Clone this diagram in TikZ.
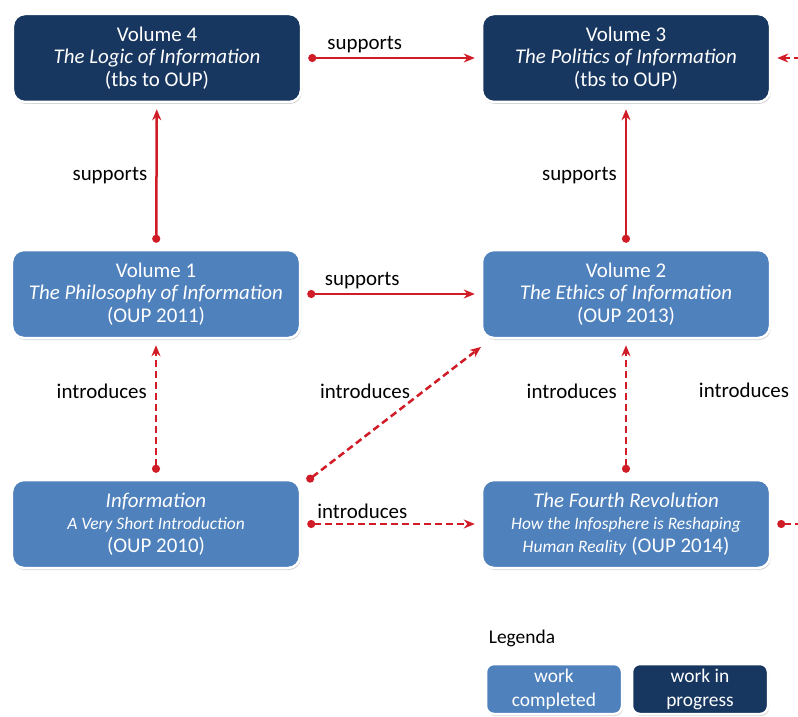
\documentclass[tikz,border=0pt]{standalone}
\usepackage{fontspec}
\setmainfont{Carlito}
\usetikzlibrary{arrows.meta,shadows,calc}
\definecolor{donebox}{RGB}{79,129,189}
\definecolor{wipbox}{RGB}{24,55,96}
\definecolor{linkred}{RGB}{208,28,38}
\begin{document}
\begin{tikzpicture}[x=1bp,y=-1bp,
    vol/.style={rectangle,rounded corners=12bp,draw=white,line width=2.5bp,text=white,align=center,
      minimum width=288bp,minimum height=88bp,inner sep=0pt,
      drop shadow={shadow xshift=1bp,shadow yshift=-2bp,opacity=0.35},font=\fontsize{21}{22.5}\selectfont},
    done/.style={vol,fill=donebox},
    wip/.style={vol,fill=wipbox},
    key/.style={minimum width=136bp,minimum height=50bp,rounded corners=8bp,font=\fontsize{19.5}{24}\selectfont},
    lbl/.style={font=\fontsize{21}{22}\selectfont,inner sep=2bp},
    link/.style={draw=linkred,line width=2.5bp,{Circle[length=8bp]}-{Stealth[length=11bp,width=9bp]},
      shorten <=6bp,shorten >=6bp},
    intro/.style={link,dash pattern=on 7bp off 4bp}]
    \useasboundingbox (0,0) rectangle (798,717);
    \node[wip] (vol4) at (157,58) {Volume 4\\\textit{The Logic of Information}\\(tbs to OUP)};
    \node[wip] (vol3) at (626,58) {Volume 3\\\textit{The Politics of Information}\\(tbs to OUP)};
    \node[done] (vol1) at (156,294) {Volume 1\\\textit{The Philosophy of Information}\\(OUP 2011)};
    \node[done] (vol2) at (626,294) {Volume 2\\\textit{The Ethics of Information}\\(OUP 2013)};
    \node[done] (info) at (156,524) {\textit{Information}\\{\fontsize{17.5}{21}\selectfont\textit{A Very Short Introduction}}\\(OUP 2010)};
    \node[done] (fourth) at (626,524) {\textit{The Fourth Revolution}\\{\fontsize{17.5}{22}\selectfont\textit{How the Infosphere is Reshaping}}\\{\fontsize{17.5}{24}\selectfont\textit{Human Reality}} (OUP 2014)};
    \draw[link] (vol4) -- node[lbl,pos=.35,above=2bp] {supports} (vol3);
    \draw[link] (vol1) -- node[lbl,left=6bp] {supports} (vol4);
    \draw[link] (vol2) -- node[lbl,left=6bp] {supports} (vol3);
    \draw[link] (vol1) -- node[lbl,pos=.34,above=2bp] {supports} (vol2);
    \draw[intro] (info) -- node[lbl,pos=.63,left=6bp] {introduces} (vol1);
    \draw[intro] ($(info.north east)+(1,6)$) -- node[lbl,pos=.66,left=10bp] {introduces} ($(vol2.south west)+(5,4)$);
    \draw[intro] (fourth) -- node[lbl,pos=.63,left=6bp] {introduces} (vol2);
    \draw[intro] (info) -- node[lbl,pos=.34,above=2bp] {introduces} (fourth);
    \coordinate (farright) at (840,390);
    \draw[intro] (fourth.east) -| (farright) |- (vol3.east);
    \node[lbl] (farlbl) at (744,390) {introduces};
    \node[lbl,font=\fontsize{19.5}{22}\selectfont] (legenda) at (522,638) {Legenda};
    \node[done,key] (keydone) at (554,689) {work\\completed};
    \node[wip,key] (keywip) at (700,689) {work in\\progress};
\end{tikzpicture}
\end{document}
